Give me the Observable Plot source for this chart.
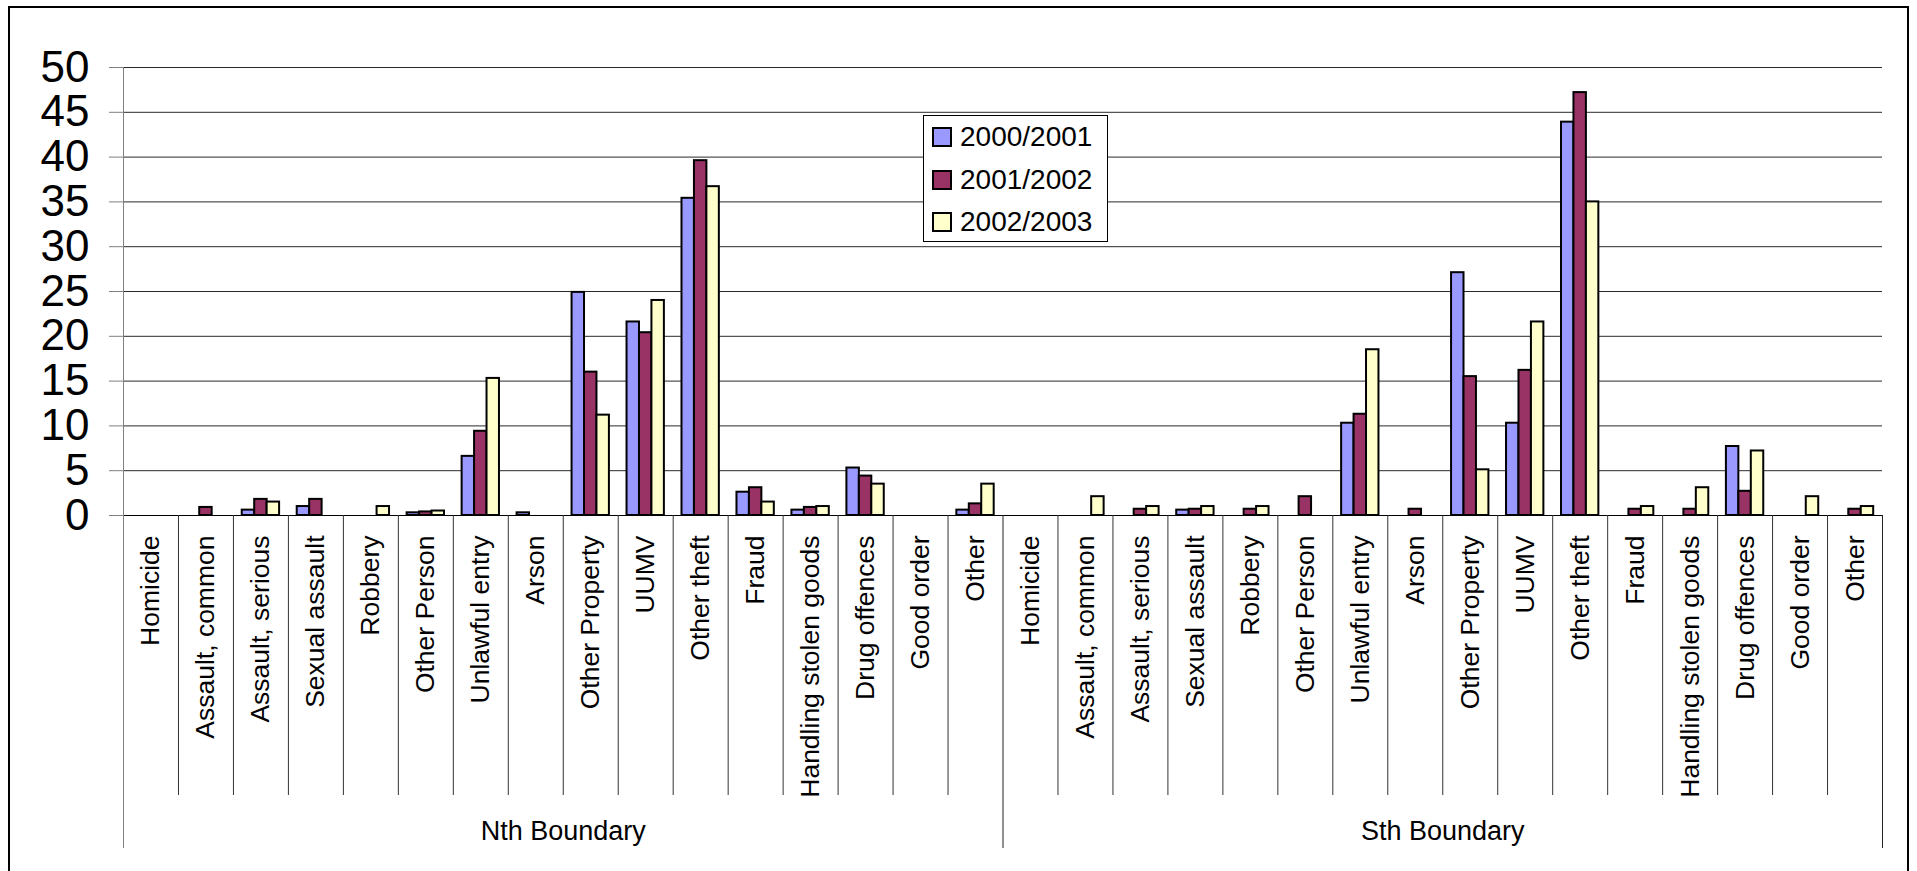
<!DOCTYPE html>
<html>
<head>
<meta charset="utf-8">
<script src="https://cdn.jsdelivr.net/npm/d3@7"></script>
<script src="https://cdn.jsdelivr.net/npm/@observablehq/plot@0.6"></script>
<style>
  html, body { margin: 0; padding: 0; background: #fff; overflow: hidden; }
  #wrap { position: relative; width: 1917px; height: 871px; }
  #chart svg { position: absolute; left: 0; top: 0; }
  #chart [aria-label^="y-axis"] text { font-size: 44px; }
  #chart [aria-label^="y-axis"] line,
  #chart [aria-label^="y-axis"] path { stroke: #808080; }
  #frame {
    position: absolute; left: 8px; top: 6px; width: 1901px; height: 1000px;
    box-sizing: border-box; border: 2px solid #000; pointer-events: none;
  }
  #legend {
    position: absolute; left: 923px; top: 115px; width: 185px; height: 127px;
    box-sizing: border-box; border: 1px solid #000; background: #fff;
    font-family: "Liberation Sans", Arial, sans-serif; font-size: 28px; color: #000;
  }
  #legend .row { height: 42.5px; display: flex; align-items: center; }
  #legend .sw {
    width: 20px; height: 20px; box-sizing: border-box; border: 2px solid #000;
    margin-left: 8px; margin-right: 8px;
  }
</style>
</head>
<body>
<div id="wrap">
  <div id="chart"></div>
  <div id="frame"></div>
  <div id="legend"></div>
</div>
<script>
// Offence categories, repeated for each boundary area
const categories = [
  "Homicide", "Assault, common", "Assault, serious", "Sexual assault", "Robbery",
  "Other Person", "Unlawful entry", "Arson", "Other Property", "UUMV",
  "Other theft", "Fraud", "Handling stolen goods", "Drug offences", "Good order", "Other"
];
const groups = ["Nth Boundary", "Sth Boundary"];
const series = ["2000/2001", "2001/2002", "2002/2003"];
const colors = ["#9999FF", "#993366", "#FFFFCC"];
const yTicks = [0, 5, 10, 15, 20, 25, 30, 35, 40, 45, 50];

// Share of offences (%) per category, one array per year
const nth2000 = [0, 0, 0.6, 1.0, 0, 0.3, 6.6, 0.3, 24.9, 21.6, 35.4, 2.6, 0.6, 5.3, 0, 0.6];
const nth2001 = [0, 0.9, 1.8, 1.8, 0, 0.4, 9.4, 0, 16.0, 20.4, 39.6, 3.1, 0.9, 4.4, 0, 1.3];
const nth2002 = [0, 0, 1.5, 0, 1.0, 0.5, 15.3, 0, 11.2, 24.0, 36.7, 1.5, 1.0, 3.5, 0, 3.5];
const sth2000 = [0, 0, 0, 0.6, 0, 0, 10.3, 0, 27.1, 10.3, 43.9, 0, 0, 7.7, 0, 0];
const sth2001 = [0, 0, 0.7, 0.7, 0.7, 2.1, 11.3, 0.7, 15.5, 16.2, 47.2, 0.7, 0.7, 2.7, 0, 0.7];
const sth2002 = [0, 2.1, 1.0, 1.0, 1.0, 0, 18.5, 0, 5.1, 21.6, 35.0, 1.0, 3.1, 7.2, 2.1, 1.0];

const valuesByGroup = {
  "Nth Boundary": [nth2000, nth2001, nth2002],
  "Sth Boundary": [sth2000, sth2001, sth2002]
};

// One x band per (boundary, category)
const keyOf = (g, c) => `${g}|${c}`;
const keys = groups.flatMap(g => categories.map(c => keyOf(g, c)));
const catOf = k => k.split("|")[1];

const rows = [];
for (const g of groups) {
  categories.forEach((c, ci) => {
    series.forEach((s, si) => {
      rows.push({key: keyOf(g, c), group: g, category: c, series: s, value: valuesByGroup[g][si][ci]});
    });
  });
}

const W = 1917, H = 871;
const mTop = 67, mRight = 35, mBottom = 356, mLeft = 123;
const band = (W - mLeft - mRight) / keys.length;
const barW = band * 0.2265;
const frameH = H - mTop - mBottom;

const lastKeys = groups.map(g => keyOf(g, categories[categories.length - 1]));
const innerKeys = keys.filter(k => !lastKeys.includes(k));

const barMarks = series.map((s, si) =>
  Plot.barY(rows.filter(r => r.series === s && r.value > 0), {
    x: "key",
    y: "value",
    fill: "series",
    stroke: "#000",
    strokeWidth: 2,
    insetLeft: band / 2 - 1.5 * barW + si * barW,
    insetRight: band / 2 - 1.5 * barW + (2 - si) * barW
  })
);

const chart = Plot.plot({
  width: W,
  height: H,
  marginTop: mTop,
  marginRight: mRight,
  marginBottom: mBottom,
  marginLeft: mLeft,
  style: {fontFamily: "'Liberation Sans', Arial, sans-serif", fontSize: "26px", color: "#000", background: "transparent", overflow: "visible"},
  x: {type: "band", domain: keys, padding: 0, round: false, axis: null},
  y: {domain: [0, 50], ticks: yTicks, tickSize: 14, tickPadding: 20, label: null, line: false},
  color: {domain: series, range: colors},
  marks: [
    // horizontal gridlines
    Plot.ruleY(yTicks.filter(t => t > 0), {stroke: "#2a2a2a", strokeWidth: 1}),
    ...barMarks,
    // baseline
    Plot.ruleY([0], {stroke: "#000", strokeWidth: 1}),
    // value axis line, continuing down as the left boundary divider
    Plot.ruleX([keys[0]], {dx: -band / 2, stroke: "#808080", strokeWidth: 1, insetBottom: -333}),
    // dividers closing each boundary group
    Plot.ruleX(lastKeys, {dx: band / 2, stroke: "#222", strokeWidth: 1, insetTop: frameH, insetBottom: -333}),
    // dividers between categories
    Plot.ruleX(innerKeys, {dx: band / 2, stroke: "#333", strokeWidth: 1, insetTop: frameH, insetBottom: -280}),
    // category labels
    Plot.text(keys, {
      x: d => d, text: catOf, frameAnchor: "bottom", lineAnchor: "middle", rotate: -90,
      textAnchor: "end", dy: 20, fontSize: 26.5, fill: "#000"
    }),
    // boundary group labels, centred on each group of categories
    Plot.text(groups, {
      x: g => keyOf(g, categories[categories.length / 2]), text: d => d,
      frameAnchor: "bottom", lineAnchor: "middle", dx: -band / 2, dy: 316, fontSize: 27, fill: "#000"
    })
  ]
});
document.getElementById("chart").appendChild(chart);

// Legend: one swatch per year
const legend = document.getElementById("legend");
series.forEach((s, i) => {
  const row = document.createElement("div");
  row.className = "row";
  const sw = document.createElement("div");
  sw.className = "sw";
  sw.style.background = colors[i];
  const label = document.createElement("span");
  label.textContent = s;
  row.appendChild(sw);
  row.appendChild(label);
  legend.appendChild(row);
});
</script>
</body>
</html>
